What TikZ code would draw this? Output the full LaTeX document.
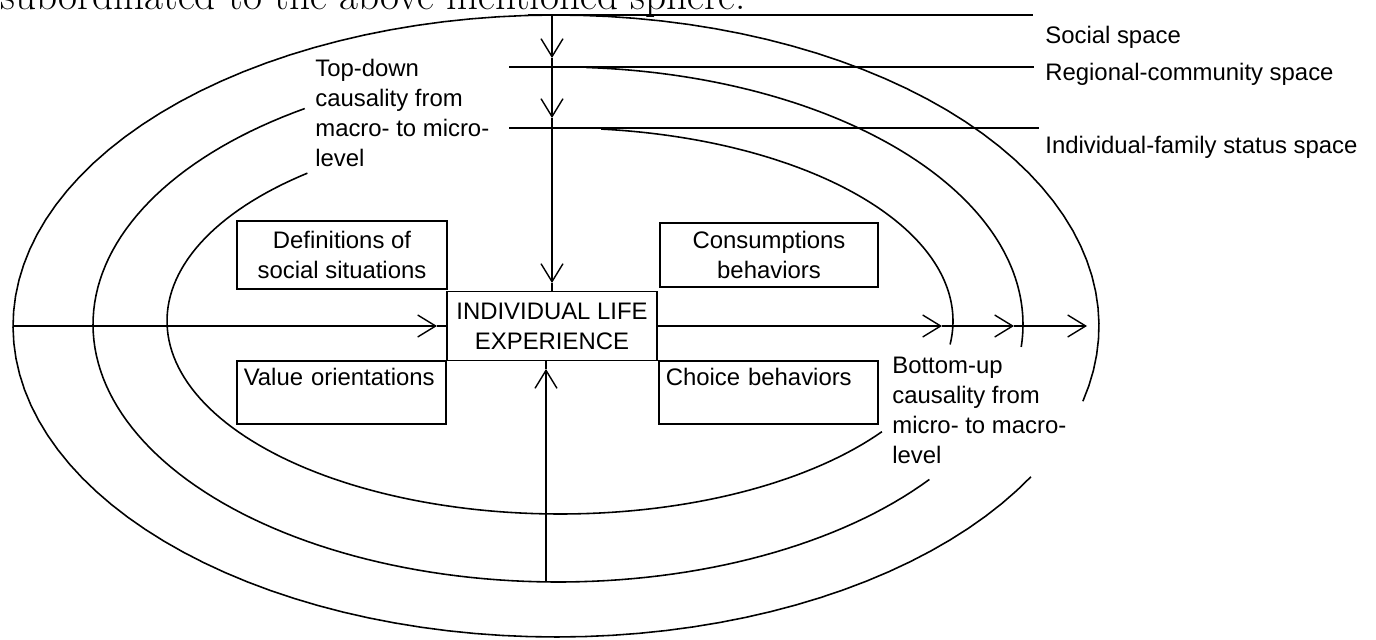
\documentclass[tikz,border=0pt]{standalone}
\usepackage{fontspec}
\setsansfont{Liberation Sans}
\usetikzlibrary{arrows.meta}

\begin{document}
\begin{tikzpicture}[
  x=0.02cm, y=-0.02cm,
  ring/.style={line width=.9pt, black},
  box/.style={draw=black, line width=.9pt, inner sep=0pt, align=center,
              font=\sffamily\fontsize{13.6}{17}\selectfont},
  lowbox/.style={box, align=left, inner xsep=1.4mm, text height=4.8mm,
                 text depth=7.8mm, anchor=base west},
  link/.style={-{Straight Barb[length=3.6mm, width=4.4mm]}, line width=.8pt, black},
  lab/.style={font=\sffamily\fontsize{13.6}{17}\selectfont, inner sep=0pt, align=left}
]
\useasboundingbox (0,0) rectangle (1376,639);
\clip (0,0) rectangle (1376,639);
\node[anchor=base west, inner sep=0pt, font=\fontsize{23.5}{26}\selectfont] (page) at (0,10)
  {subordinated to the above mentioned sphere.};

\foreach \cx/\cy/\rx/\ry/\a/\b in {556/326/543/311/29/374,
    558/324.5/465/257.5/37/237, 558/324.5/465/257.5/273.5/365,
    560/321/393/193/35/230, 560/321/393/193/276/367}
  \draw[ring] plot[domain=\a:\b, samples=120] ({\cx+\rx*cos(\x)}, {\cy+\ry*sin(\x)});

\coordinate (l1) at (528,15);  \coordinate (l1e) at (1033,15);
\coordinate (l2) at (509,67);  \coordinate (l2e) at (1034,67);
\coordinate (l3) at (509,128); \coordinate (l3e) at (1039,128);
\draw[ring] (l1) -- (l1e);
\draw[ring] (l2) -- (l2e);
\draw[ring] (l3) -- (l3e);
\node[lab, anchor=base west] (social) at (1045,43) {Social space};
\node[lab, anchor=base west] (regional) at (1045,80) {Regional-community space};
\node[lab, anchor=base west] (family) at (1045,153) {Individual-family status space};

\node[box, minimum width=42mm, minimum height=13.6mm] (def) at (342,255)
  {Definitions of\\social situations};
\node[box, minimum width=43.6mm, minimum height=12.8mm] (cons) at (769,255)
  {Consumptions\\behaviors};
\node[box, minimum width=42mm, minimum height=13.8mm] (life) at (552,326)
  {INDIVIDUAL LIFE\\EXPERIENCE};
\node[lowbox, text width=3.9cm] (val) at (236,385) {Value orientations};
\node[lowbox, text width=4.1cm] (choice) at (658,385) {Choice behaviors};

\node[lab, anchor=north west] (topdown) at (315,59)
  {Top-down\\causality from\\macro- to micro-\\level};
\node[lab, anchor=north west] (bottomup) at (892,357)
  {Bottom-up\\causality from\\micro- to macro-\\level};

\coordinate (s1) at (552,15);  \coordinate (d1) at (552,58);
\coordinate (s2) at (552,67);  \coordinate (d2) at (552,118);
\coordinate (s3) at (552,128); \coordinate (d3) at (552,283);
\coordinate (w0) at (13,326);  \coordinate (w1) at (437,326);
\coordinate (u0) at (546,582); \coordinate (u1) at (546,369);
\coordinate (e1) at (942,326); \coordinate (e2) at (1014,326);
\coordinate (e3) at (1087,326);
\draw[link] (s1) -- (d1) edge[-] (s2);
\draw[link] (s2) -- (d2) edge[-] (s3);
\draw[link] (s3) -- (d3) edge[-] (life.north);
\draw[link] (w0) -- (w1) edge[-] (life.west);
\draw[link] (u0) -- (u1) edge[-] (u1 |- life.south);
\draw[link] (life.east) -- (e1);
\draw[link] (e1) -- (e2);
\draw[link] (e2) -- (e3);
\end{tikzpicture}
\end{document}
